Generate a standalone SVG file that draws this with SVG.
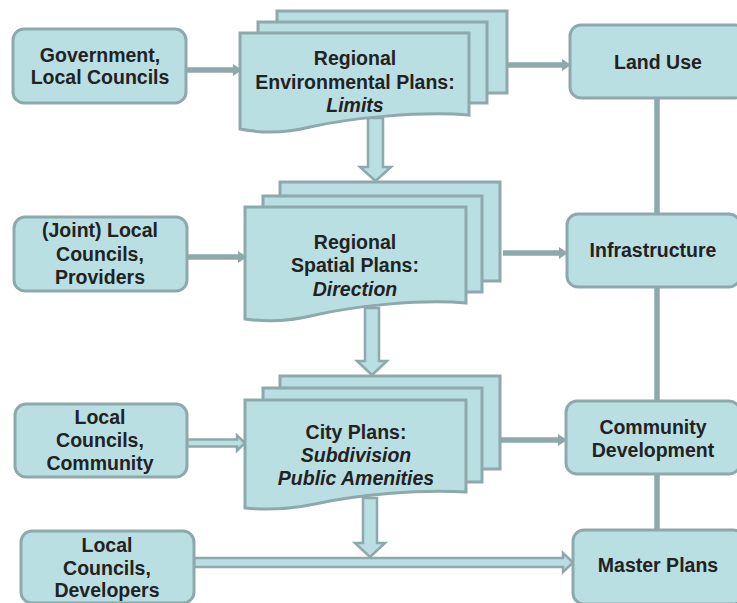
<svg xmlns="http://www.w3.org/2000/svg" width="737" height="603" viewBox="0 0 737 603">
  <defs>
    <style>
      .box { fill: #b9dfe3; stroke: #8da9ab; stroke-width: 3; }
      .doc { fill: #b9dfe3; stroke: #8da9ab; stroke-width: 3; stroke-linejoin: miter; }
      .link { stroke: #8da9ab; stroke-width: 5.5; fill: none; }
      .hollow { fill: #b9dfe3; stroke: #8da9ab; stroke-width: 2.5; stroke-linejoin: miter; }
      .head { fill: #8da9ab; }
      text { font-family: "Liberation Sans", Arial, sans-serif; font-weight: bold; font-size: 19.5px; fill: #222222; text-anchor: middle; }
      .it { font-style: italic; }
    </style>
  </defs>

  <!-- connectors -->
  <g id="connectors">
    <!-- vertical spine on the right -->
    <line class="link" x1="657" y1="95" x2="657" y2="532"/>
    <!-- sources to plans -->
    <line class="link" x1="186" y1="70" x2="234" y2="70"/>
    <polygon class="head" points="233,64 242,70 233,76"/>
    <line class="link" x1="187" y1="257" x2="239" y2="257"/>
    <polygon class="head" points="238,251 247,257 238,263"/>
    <polygon class="hollow" points="187,439.5 237,439.5 237,435.5 245,443 237,450.5 237,446.5 187,446.5"/>
    <!-- plans to outcomes -->
    <line class="link" x1="507" y1="65" x2="563" y2="65"/>
    <polygon class="head" points="562,59 571,65 562,71"/>
    <line class="link" x1="503" y1="253" x2="560" y2="253"/>
    <polygon class="head" points="559,247 568,253 559,259"/>
    <line class="link" x1="500" y1="440" x2="559" y2="440"/>
    <polygon class="head" points="558,434 567,440 558,446"/>
    <!-- downward block arrows -->
    <polygon class="hollow" points="368,118 383,118 383,167 391,167 375.5,181 360,167 368,167"/>
    <polygon class="hollow" points="365,308 379,308 379,361 387,361 372,375 357,361 365,361"/>
    <polygon class="hollow" points="363,498 377,498 377,543 385,543 370,557 355,543 363,543"/>
    <!-- long bottom arrow -->
    <polygon class="hollow" points="194,558 563,558 563,553 573,562.5 563,572 563,567 194,567"/>
  </g>

  <!-- source nodes -->
  <g id="n-government">
    <rect class="box" x="13" y="29" width="173" height="74" rx="11"/>
    <text x="100" y="62">Government,</text>
    <text x="100" y="84">Local Councils</text>
  </g>
  <g id="n-joint">
    <rect class="box" x="14" y="217" width="173" height="74" rx="11"/>
    <text x="100" y="237">(Joint) Local</text>
    <text x="100" y="261">Councils,</text>
    <text x="100" y="284">Providers</text>
  </g>
  <g id="n-community-src">
    <rect class="box" x="15" y="404" width="172" height="73" rx="11"/>
    <text x="100" y="424">Local</text>
    <text x="100" y="447">Councils,</text>
    <text x="100" y="470">Community</text>
  </g>
  <g id="n-developers">
    <rect class="box" x="21" y="531" width="173" height="72" rx="11"/>
    <text x="107" y="552">Local</text>
    <text x="107" y="575">Councils,</text>
    <text x="107" y="597">Developers</text>
  </g>

  <!-- plan documents (stacked) -->
  <g id="n-rep">
    <rect class="doc" x="277" y="11" width="230" height="82"/>
    <rect class="doc" x="258" y="22" width="229" height="81"/>
    <path class="doc" d="M240,33 H469 V115 C420,111 350,118 310,127 C282,134 260,133 240,129 Z"/>
    <text x="355" y="65">Regional</text>
    <text x="355" y="89">Environmental Plans:</text>
    <text class="it" x="355" y="112">Limits</text>
  </g>
  <g id="n-rsp">
    <rect class="doc" x="280" y="182" width="220" height="99"/>
    <rect class="doc" x="263" y="196" width="219" height="96"/>
    <path class="doc" d="M245,207 H466 V303 C420,299 355,306 315,315 C287,322 265,322 245,319 Z"/>
    <text x="355" y="249">Regional</text>
    <text x="355" y="272">Spatial Plans:</text>
    <text class="it" x="355" y="296">Direction</text>
  </g>
  <g id="n-city">
    <rect class="doc" x="280" y="376" width="220" height="93"/>
    <rect class="doc" x="263" y="388" width="219" height="94"/>
    <path class="doc" d="M245,400 H466 V492 C420,489 355,495 315,504 C287,510 265,510 245,508 Z"/>
    <text x="356" y="439">City Plans:</text>
    <text class="it" x="356" y="462">Subdivision</text>
    <text class="it" x="356" y="485">Public Amenities</text>
  </g>

  <!-- outcome nodes -->
  <g id="n-landuse">
    <rect class="box" x="570" y="25" width="176" height="73" rx="11"/>
    <text x="658" y="69">Land Use</text>
  </g>
  <g id="n-infrastructure">
    <rect class="box" x="567" y="214" width="173" height="73" rx="11"/>
    <text x="653" y="257">Infrastructure</text>
  </g>
  <g id="n-commdev">
    <rect class="box" x="566" y="401" width="174" height="73" rx="11"/>
    <text x="653" y="434">Community</text>
    <text x="653" y="457">Development</text>
  </g>
  <g id="n-master">
    <rect class="box" x="573" y="530" width="171" height="74" rx="11"/>
    <text x="658" y="572">Master Plans</text>
  </g>
</svg>
